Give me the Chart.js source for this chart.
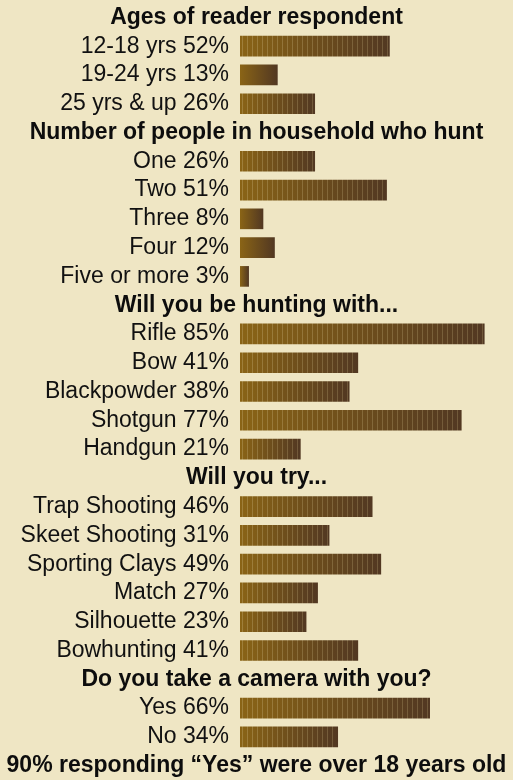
<!DOCTYPE html>
<html>
<head>
<meta charset="utf-8">
<script src="https://cdn.jsdelivr.net/npm/chart.js@4.4.1/dist/chart.umd.min.js"></script>
<style>
  html, body { margin: 0; padding: 0; background: #efe6c4; }
  #wrap { width: 513px; height: 780px; position: relative; }
</style>
</head>
<body>
<div id="wrap"><canvas id="surveyChart"></canvas></div>
<script>
// Tiêu đề từng nhóm câu hỏi
const sectionTitles = [
  'Ages of reader respondent',
  'Number of people in household who hunt',
  'Will you be hunting with...',
  'Will you try...',
  'Do you take a camera with you?'
];

const ageLabels = ['12-18 yrs', '19-24 yrs', '25 yrs & up'];
const ageValues = [52, 13, 26];

const householdLabels = ['One', 'Two', 'Three', 'Four', 'Five or more'];
const householdValues = [26, 51, 8, 12, 3];

const gunLabels = ['Rifle', 'Bow', 'Blackpowder', 'Shotgun', 'Handgun'];
const gunValues = [85, 41, 38, 77, 21];

const tryLabels = ['Trap Shooting', 'Skeet Shooting', 'Sporting Clays', 'Match', 'Silhouette', 'Bowhunting'];
const tryValues = [46, 31, 49, 27, 23, 41];

const cameraLabels = ['Yes', 'No'];
const cameraValues = [66, 34];

const footnote = '90% responding \u201cYes\u201d were over 18 years old';

// Ghép các nhóm thành một danh sách hàng
const groups = [
  [ageLabels, ageValues],
  [householdLabels, householdValues],
  [gunLabels, gunValues],
  [tryLabels, tryValues],
  [cameraLabels, cameraValues]
];
const rowLabels = [];
const rowValues = [];
const headerRows = {};
groups.forEach(function(g, i) {
  headerRows[rowLabels.length] = sectionTitles[i];
  rowLabels.push('');
  rowValues.push(null);
  g[0].forEach(function(lab, j) {
    rowLabels.push(lab + ' ' + g[1][j] + '%');
    rowValues.push(g[1][j]);
  });
});
headerRows[rowLabels.length] = footnote;
rowLabels.push('');
rowValues.push(null);

const FONT = '"Liberation Sans", Arial, Helvetica, sans-serif';

function mix(a, b, t) {
  return 'rgb(' + a.map(function(v, k) { return Math.round(v + (b[k] - v) * t); }).join(',') + ')';
}

// Màu thanh: chuyển từ vàng nâu sang nâu đậm, có sọc sáng
function barFill(context) {
  const chart = context.chart;
  if (!chart.chartArea || context.raw == null) return '#7a5a1c';
  const xs = chart.scales.x;
  const x0 = xs.getPixelForValue(0);
  const x1 = xs.getPixelForValue(context.raw);
  const len = Math.max(x1 - x0, 1);
  const g = chart.ctx.createLinearGradient(x0, 0, x1, 0);
  const from = [138, 100, 22], to = [82, 56, 34];
  const lightA = [160, 128, 58], lightB = [112, 88, 58];
  const step = 5;
  g.addColorStop(0, mix(from, to, 0));
  if (len > 40) {
    for (let p = 2; p + 2 < len; p += step) {
      const t0 = p / len, t1 = (p + 1.2) / len;
      g.addColorStop(t0, mix(from, to, t0));
      g.addColorStop(t0, mix(lightA, lightB, t0));
      g.addColorStop(t1, mix(lightA, lightB, t1));
      g.addColorStop(t1, mix(from, to, t1));
    }
  }
  g.addColorStop(1, mix(from, to, 1));
  return g;
}

// Vẽ tiêu đề nhóm ở giữa
const headerPlugin = {
  id: 'headers',
  afterDraw: function(chart) {
    const ctx = chart.ctx;
    const ys = chart.scales.y;
    ctx.save();
    ctx.font = 'bold 23px ' + FONT;
    ctx.fillStyle = '#0d0d0d';
    ctx.textAlign = 'center';
    ctx.textBaseline = 'middle';
    Object.keys(headerRows).forEach(function(i) {
      ctx.fillText(headerRows[i], chart.width / 2, ys.getPixelForValue(Number(i)));
    });
    ctx.restore();
  }
};

document.addEventListener('DOMContentLoaded', function() {
  const ctx = document.getElementById('surveyChart').getContext('2d');
  new Chart(ctx, {
    type: 'bar',
    data: {
      labels: rowLabels,
      datasets: [{
        data: rowValues,
        backgroundColor: barFill,
        borderWidth: 0,
        barThickness: 20
      }]
    },
    options: {
      indexAxis: 'y',
      responsive: true,
      maintainAspectRatio: false,
      animation: false,
      layout: { padding: { top: 3, bottom: 0, left: 0, right: 0 } },
      plugins: {
        legend: { display: false },
        tooltip: { enabled: false }
      },
      scales: {
        x: { display: false, min: 0, max: 95 },
        y: {
          grid: { display: false, drawTicks: false },
          border: { display: false },
          afterFit: function(scale) {
            scale.width = 240;
            scale.paddingTop = 0;
            scale.paddingBottom = 0;
          },
          ticks: {
            padding: 11,
            color: '#111',
            font: { family: FONT, size: 23 },
            autoSkip: false
          }
        }
      }
    },
    plugins: [headerPlugin]
  });
});
</script>
</body>
</html>
